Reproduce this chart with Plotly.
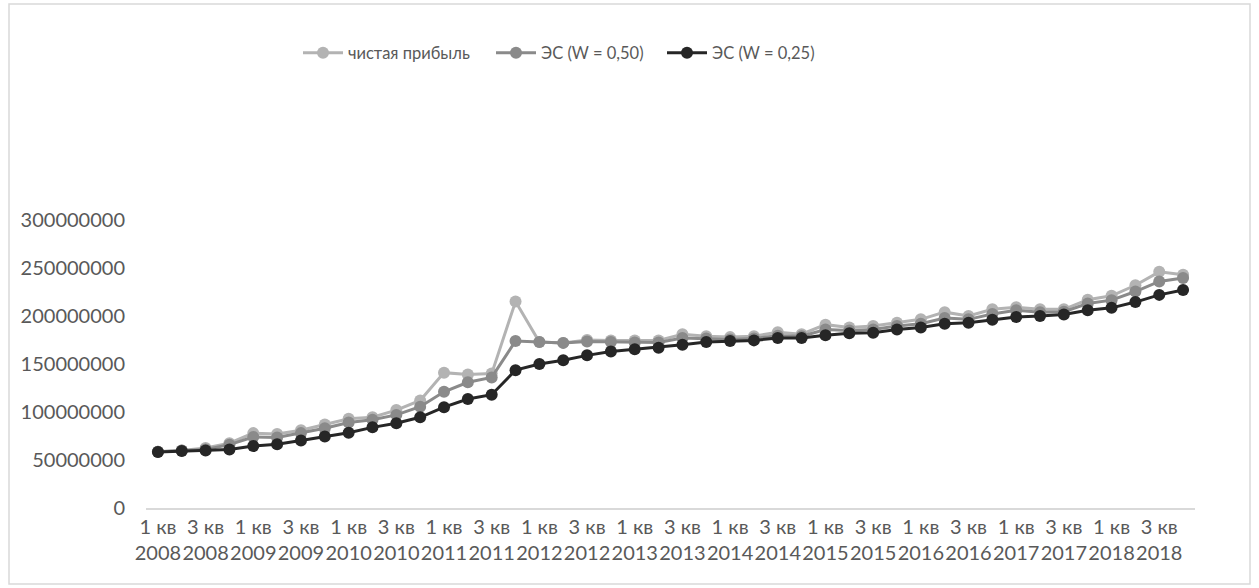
import plotly.graph_objects as go

years = list(range(2008, 2019))
quarters = [1, 2, 3, 4]
categories = [f"{q} кв {y}" for y in years for q in quarters]

net_profit = [58.5, 60, 62.5, 67.5, 78, 77, 81, 87, 93, 94.5, 102, 112,
              141, 139, 140, 215, 173, 172, 175, 174.5, 174.5, 174.5, 181, 179,
              178, 179, 183, 181, 191, 188, 189.5, 193, 196.5, 204, 200, 207,
              209, 207, 207, 217, 221, 232, 246, 243]
es_050 = [58.5, 59.8, 61, 66, 74, 73.5, 78, 83, 89, 92, 97, 105.5,
          121, 131, 136, 174, 173, 172, 173.5, 173, 172.5, 172.5, 177, 176.5,
          175.5, 176.5, 179.5, 179, 186, 185, 186, 189.5, 192, 198, 196.5, 202,
          206, 204, 204.5, 213, 216.5, 225.5, 236, 239.5]
es_025 = [58.3, 59.3, 60, 61, 64.5, 66.3, 70.4, 74.5, 78.3, 84, 88.3, 94.5,
          105, 113.5, 118, 143.6, 150, 154, 159, 163, 165.3, 167, 170, 173,
          174, 174.6, 177, 177, 180, 182, 182.5, 186, 188, 192, 193, 196,
          199, 200, 201.5, 206, 208.5, 214.5, 222, 227]

series_names = ["чистая прибыль", "ЭС (W = 0,50)", "ЭС (W = 0,25)"]
series_values = [net_profit, es_050, es_025]
series_colors = ["#b3b3b3", "#8a8a8a", "#262626"]
legend_ids = ["legend", "legend2", "legend3"]
legend_left_px = [298, 491, 662]

y_ticks = [0, 50e6, 100e6, 150e6, 200e6, 250e6, 300e6]
x_tickvals = categories[::2]
x_ticktext = [c.replace(" кв ", " кв<br>") for c in x_tickvals]

FONT = "Lato, 'Open Sans', sans-serif"

fig = go.Figure()
for name, vals, col, lg in zip(series_names, series_values, series_colors, legend_ids):
    fig.add_trace(go.Scatter(
        x=categories, y=[v * 1e6 for v in vals], name=name,
        mode="lines+markers",
        line=dict(color=col, width=3),
        marker=dict(color=col, size=12),
        legend=lg,
    ))

W, H = 1259, 588
L, R, T, B = 146, 64, 220, 80
pw, ph = W - L - R, H - T - B

legend_layout = {}
for lg, px in zip(legend_ids, legend_left_px):
    legend_layout[lg] = dict(
        orientation="h", x=(px - L) / pw, xanchor="left",
        y=(H - B - 53) / ph, yanchor="middle",
        font=dict(size=16.5, color="#595959"),
        itemwidth=40, bgcolor="rgba(0,0,0,0)",
    )

fig.update_layout(
    width=W, height=H,
    margin=dict(l=L, r=R, t=T, b=B, pad=0),
    paper_bgcolor="white", plot_bgcolor="white",
    font=dict(family=FONT, color="#595959", size=20),
    showlegend=True,
    **legend_layout,
    xaxis=dict(type="category", categoryorder="array", categoryarray=categories,
               range=[-0.5, len(categories) - 0.5],
               tickmode="array", tickvals=x_tickvals, ticktext=x_ticktext,
               showgrid=False, showline=True, linecolor="#d9d9d9", linewidth=1.5,
               ticks="", tickangle=0, tickfont=dict(size=20, color="#595959"),
               zeroline=False),
    yaxis=dict(range=[0, 300e6], tickmode="array", tickvals=y_ticks,
               tickformat="d", showgrid=False, showline=False, zeroline=False,
               ticks="", ticklabelstandoff=20,
               tickfont=dict(size=20, color="#595959")),
    shapes=[dict(type="rect", xref="paper", yref="paper",
                 x0=(9 - L) / pw, x1=(1250 - L) / pw,
                 y0=(H - B - 584) / ph, y1=(H - B - 4) / ph,
                 line=dict(color="#d9d9d9", width=1.5), fillcolor="rgba(0,0,0,0)",
                 layer="below")],
)

fig.write_html("out.html")
